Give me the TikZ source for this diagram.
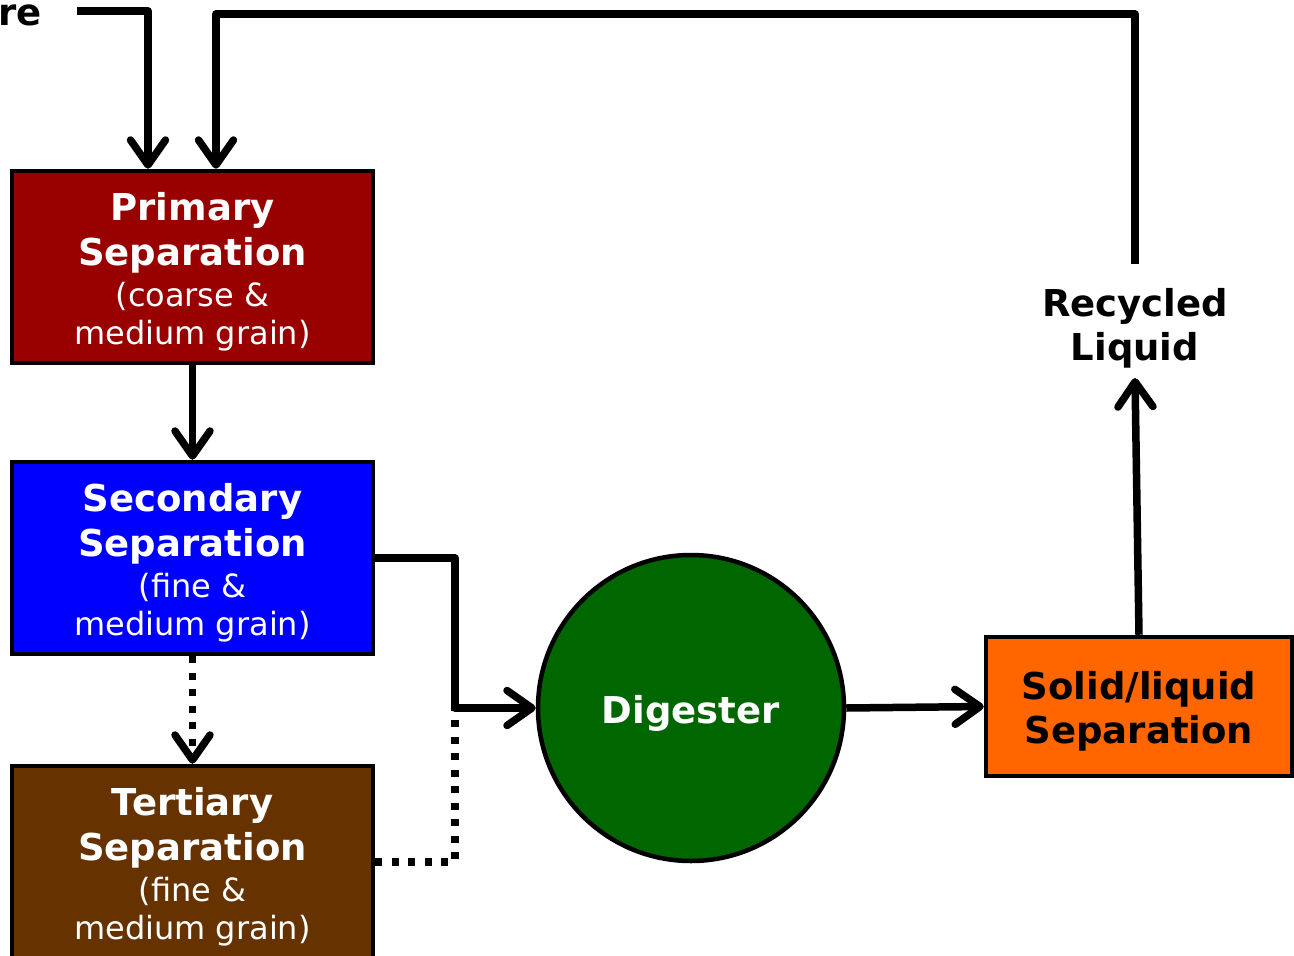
\documentclass[tikz,border=0pt]{standalone}
\usepackage{fontspec}
\setmainfont{DejaVu Sans}
\usetikzlibrary{arrows.meta}
\newcommand\hd[1]{{\bfseries\fontsize{37}{45}\selectfont #1}}
\newcommand\tp{\rule{0pt}{38pt}}
\tikzset{
  box/.style={draw=black, line width=4.5pt, minimum width=361pt, minimum height=192pt,
    text=white, align=center, inner sep=0pt, font=\fontsize{32}{38}\selectfont},
  conn/.style={line width=7.5pt, line join=round},
  arr/.style={conn, -{Straight Barb[length=25pt,width=35pt,round]}},
  dotline/.style={conn, dash pattern=on 7pt off 9.5pt},
  lbl/.style={font=\bfseries\fontsize{37}{44}\selectfont, align=center, inner sep=0pt}
}
\begin{document}
\begin{tikzpicture}[x=1pt,y=-1pt]
\useasboundingbox (0,0) rectangle (1294,956);
\node[box, fill={rgb,255:red,153;green,0;blue,0}] (prim) at (192.5,267)
  {\tp\hd{Primary}\\[7pt]\hd{Separation}\\[3pt](coarse \&\\medium grain)};
\node[box, fill={rgb,255:red,0;green,0;blue,255}] (sec) at (192.5,558)
  {\tp\hd{Secondary}\\[7pt]\hd{Separation}\\[3pt](fine \&\\medium grain)};
\node[box, fill={rgb,255:red,102;green,51;blue,0}] (ter) at (192.5,862)
  {\tp\hd{Tertiary}\\[7pt]\hd{Separation}\\[3pt](fine \&\\medium grain)};
\node[circle, draw=black, line width=4.5pt, minimum size=306pt, inner sep=0pt,
  fill={rgb,255:red,0;green,102;blue,0}, text=white, lbl] (dig) at (691,708) {\tp Digester};
\node[draw=black, line width=4.5pt, minimum width=306pt, minimum height=139pt,
  fill={rgb,255:red,255;green,102;blue,0}, lbl] (sl) at (1139,706.5) {\tp Solid/liquid\\Separation};
\node[lbl] (rl) at (1135,323) {\tp Recycled\\Liquid};
\node[font=\bfseries\fontsize{37}{45}\selectfont, anchor=base east, inner sep=0pt] (re) at (42,25) {re};
\coordinate (in) at (77,11);
\coordinate (fbtop) at (216,14);
\coordinate (j) at (455,708);
\draw[arr] (in) -| ([xshift=-44.5pt]prim.north);
\draw[arr] ([yshift=14pt]rl.north) |- (fbtop) -- (fbtop |- prim.north);
\draw[arr] (prim.south) -- (sec.north);
\draw[arr] (sec.east) -| (j) -- (dig.west);
\draw[dotline] (ter.east) -| (j);
\draw[dotline, -{Straight Barb[length=25pt,width=35pt,round]}] (sec.south) -- (ter.north);
\draw[arr] (dig.east) -- (sl.west);
\draw[arr] (sl.north) -- ([yshift=-10pt]rl.south);
\end{tikzpicture}
\end{document}
